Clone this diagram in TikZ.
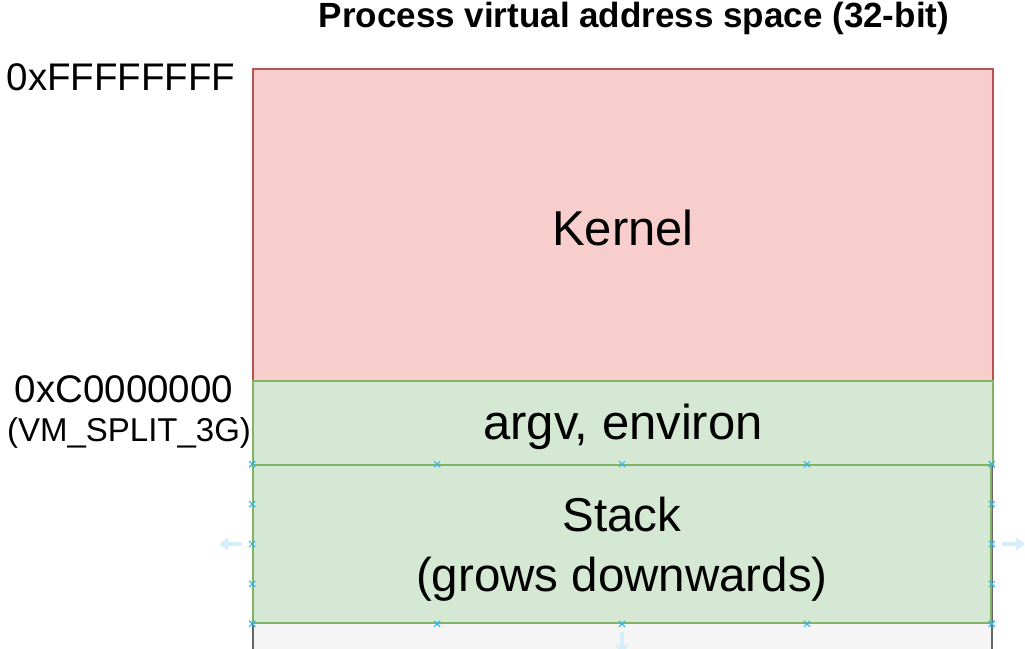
\documentclass[tikz,border=0pt]{standalone}
\usepackage{fontspec}
\setmainfont{Liberation Sans}
\usepackage{tikz}
\usetikzlibrary{calc}
\usetikzlibrary{arrows.meta}
\definecolor{kernelfill}{HTML}{F8CECC}
\definecolor{kernelline}{HTML}{B85450}
\definecolor{userfill}{HTML}{D5E8D4}
\definecolor{userline}{HTML}{82B366}
\definecolor{spacefill}{HTML}{F5F5F5}
\definecolor{spaceline}{HTML}{666666}
\definecolor{handleblue}{HTML}{29B6F2}
\definecolor{hintblue}{HTML}{D6EEFB}
\tikzset{region/.style={
  draw,
  line width=1.6pt,
  inner sep=0pt
  }
}
\tikzset{region text/.style={
  inner sep=0pt,
  align=center,
  font=\fontsize{49}{60}\selectfont
  }
}
\tikzset{addr/.style={
  inner sep=0pt,
  font=\fontsize{38.5}{44}\selectfont
  }
}
\tikzset{hint arrow/.style={
  hintblue,
  line width=4pt,
  -{Triangle[length=9pt,width=13pt]}
  }
}

\begin{document}
\begin{tikzpicture}[x=1pt,y=-1pt]
    \useasboundingbox (0,0) rectangle (1025,648);
    \clip (0,0) rectangle (1025,648);

    \node[font=\fontsize{35}{42}\selectfont\bfseries,inner sep=0pt] (title) at (634,18) {Process virtual address space (32-bit)};

    \node[region,draw=spaceline,fill=spacefill,minimum width=739pt,minimum height=700pt,anchor=north] (space) at (622.5,69) {};
    \node[region,draw=kernelline,fill=kernelfill,minimum width=740pt,minimum height=312pt] (kernel) at (623,225) {};
    \node[region,draw=userline,fill=userfill,minimum width=740pt,minimum height=84pt] (argv) at (623,423) {};
    \node[region,draw=userline,fill=userfill,minimum width=738pt,minimum height=158pt] (stack) at (622,544) {};

    \node[region text] (kerneltext) at ([yshift=-3pt]kernel.center) {Kernel};
    \node[region text] (argvtext) at ([yshift=-4pt]argv.center) {argv, environ};
    \node[region text,font=\fontsize{47.5}{60}\selectfont] (stacktext) at ([yshift=-5pt]stack.center) {Stack\\(grows downwards)};

    \node[addr] (top) at (121,77) {0xFFFFFFFF};
    \node[addr] (split) at (124,389) {0xC0000000};
    \node[addr,font=\fontsize{33}{40}\selectfont] (splitname) at (129,433) {(VM\_SPLIT\_3G)};

    % selection handles
    \foreach \t in {0,0.25,0.5,0.75,1} {
        \foreach \a/\b in {north west/north east,south west/south east,north west/south west,north east/south east}
            \draw[handleblue,line width=1pt] ($(stack.\a)!\t!(stack.\b)$) +(-3,-3) -- +(3,3) +(-3,3) -- +(3,-3);
    }

    \draw[hint arrow] ([xshift=-10pt]stack.west) -- ++(-23,0);
    \draw[hint arrow] ([xshift=10pt]stack.east) -- ++(23,0);
    \draw[hint arrow] ([yshift=-8pt]stack.south) -- ++(0,22);
\end{tikzpicture}
\end{document}
